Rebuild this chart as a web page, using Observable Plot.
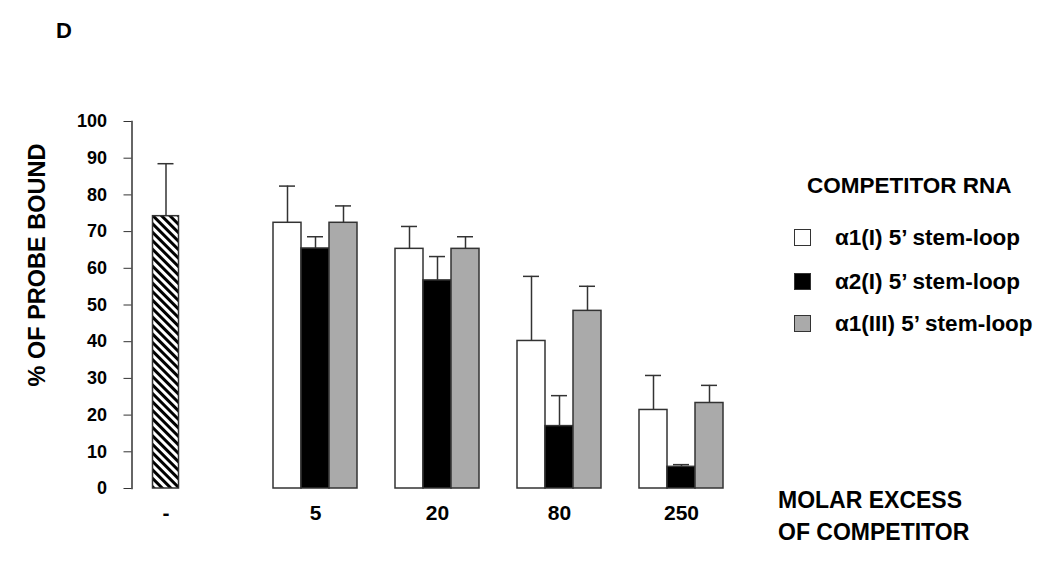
<!DOCTYPE html>
<html>
<head>
<meta charset="utf-8">
<script src="https://cdn.jsdelivr.net/npm/d3@7"></script>
<script src="https://cdn.jsdelivr.net/npm/@observablehq/plot@0.6"></script>
<style>
  html, body { margin: 0; padding: 0; background: #fff; }
  #wrap { position: relative; width: 1050px; height: 568px; overflow: hidden; font-family: "Liberation Sans", Arial, sans-serif; font-weight: bold; color: #000; }
  #wrap svg { position: absolute; left: 0; top: 0; }
  .lbl { position: absolute; white-space: nowrap; line-height: 1; }
  .box { position: absolute; width: 15px; height: 15px; border: 1.5px solid #333; }
</style>
</head>
<body>
<div id="wrap"></div>
<script>
// ---- data ----
const groups = ["-", "5", "20", "80", "250"];
const competitorGroups = ["5", "20", "80", "250"];
const seriesNames = ["α1(I) 5’ stem-loop", "α2(I) 5’ stem-loop", "α1(III) 5’ stem-loop"];
const seriesColors = ["#ffffff", "#000000", "#aaaaaa"];
const a1I = [72.4, 65.3, 40.2, 21.4];
const a1I_sd = [10.0, 6.1, 17.6, 9.4];
const a2I = [65.4, 56.7, 17.0, 5.9];
const a2I_sd = [3.2, 6.5, 8.3, 0.6];
const a1III = [72.4, 65.3, 48.4, 23.3];
const a1III_sd = [4.6, 3.3, 6.7, 4.8];
const controlGroup = ["-"];
const controlValue = [74.2];
const controlSd = [14.3];
const yTicks = [0, 10, 20, 30, 40, 50, 60, 70, 80, 90, 100];

const seriesValues = [a1I, a2I, a1III];
const seriesSds = [a1I_sd, a2I_sd, a1III_sd];
const rows = competitorGroups.flatMap((g, i) =>
  seriesNames.map((s, j) => ({group: g, series: s, value: seriesValues[j][i], hi: seriesValues[j][i] + seriesSds[j][i]})));
const controlRows = controlGroup.map((g, i) => ({group: g, value: controlValue[i], hi: controlValue[i] + controlSd[i]}));

const ink = "#333";
const axisShift = -19.5;
const controlShift = -27.5;
const chart = Plot.plot({
  width: 1050,
  height: 568,
  marginLeft: 131,
  marginRight: 0,
  marginTop: 121,
  marginBottom: 80,
  style: {fontFamily: "'Liberation Sans', Arial, sans-serif", fontWeight: "bold", color: "#000", background: "transparent"},
  fx: {domain: groups, range: [150.5, 722.9], padding: 0.312},
  x: {domain: seriesNames, padding: 0, axis: null},
  y: {domain: [0, 100]},
  color: {domain: seriesNames, range: seriesColors},
  marks: [
    Plot.barY(rows, {fx: "group", x: "series", y: "value", fill: "series", stroke: ink, strokeWidth: 1.5}),
    Plot.barY(controlRows, {fx: "group", y: "value", fill: "url(#hatch)", stroke: ink, strokeWidth: 1.5, insetLeft: 1.5, insetRight: 56.5}),
    Plot.ruleX(rows, {fx: "group", x: "series", y1: "value", y2: "hi", stroke: ink, strokeWidth: 1.5}),
    Plot.tickY(rows, {fx: "group", x: "series", y: "hi", stroke: ink, strokeWidth: 1.5, inset: 6}),
    Plot.ruleX(controlRows, {fx: "group", x: null, y1: "value", y2: "hi", stroke: ink, strokeWidth: 1.5, dx: controlShift}),
    Plot.tickY(controlRows, {fx: "group", y: "hi", stroke: ink, strokeWidth: 1.5, insetLeft: 6.5, insetRight: 61.5}),
    Plot.axisY({ticks: yTicks, tickSize: 8, tickPadding: 17, fontSize: 18, stroke: ink, label: null, dx: axisShift}),
    Plot.frame({anchor: "left", facetAnchor: "left", stroke: ink, strokeWidth: 1.5, dx: axisShift}),
    Plot.axisFx({anchor: "bottom", ticks: controlGroup, tickSize: 0, tickPadding: 17, fontSize: 21, label: null, dx: controlShift}),
    Plot.axisFx({anchor: "bottom", ticks: competitorGroups, tickSize: 0, tickPadding: 17, fontSize: 21, label: null})
  ]
});

// hatch pattern for the control bar
const ns = "http://www.w3.org/2000/svg";
const defs = document.createElementNS(ns, "defs");
const pat = document.createElementNS(ns, "pattern");
pat.setAttribute("id", "hatch");
pat.setAttribute("patternUnits", "userSpaceOnUse");
pat.setAttribute("width", "6");
pat.setAttribute("height", "6");
pat.setAttribute("patternTransform", "rotate(-45)");
const bg = document.createElementNS(ns, "rect");
bg.setAttribute("width", "6"); bg.setAttribute("height", "6"); bg.setAttribute("fill", "#fff");
const st = document.createElementNS(ns, "rect");
st.setAttribute("width", "3"); st.setAttribute("height", "6"); st.setAttribute("fill", "#000");
pat.appendChild(bg); pat.appendChild(st); defs.appendChild(pat);
chart.insertBefore(defs, chart.firstChild);

const wrap = document.getElementById("wrap");
wrap.appendChild(chart);

function label(text, left, top, size, extra) {
  const d = document.createElement("div");
  d.className = "lbl";
  d.textContent = text;
  d.style.left = left + "px";
  d.style.top = top + "px";
  d.style.fontSize = size + "px";
  if (extra) Object.assign(d.style, extra);
  wrap.appendChild(d);
  return d;
}
label("D", 56, 20, 22);
label("% OF PROBE BOUND", 38, 265, 23.5, {transform: "translate(-50%,-50%) rotate(-90deg)"});
label("COMPETITOR RNA", 807, 175, 22.5);
label("MOLAR EXCESS", 778, 489, 23);
label("OF COMPETITOR", 778, 521, 23);
const legendTops = [229, 273, 315];
seriesNames.forEach((s, i) => {
  const b = document.createElement("div");
  b.className = "box";
  b.style.left = "794px";
  b.style.top = legendTops[i] + "px";
  b.style.background = seriesColors[i];
  wrap.appendChild(b);
  label(s, 835, legendTops[i] + 9 - 11, 22.5);
});
</script>
</body>
</html>
